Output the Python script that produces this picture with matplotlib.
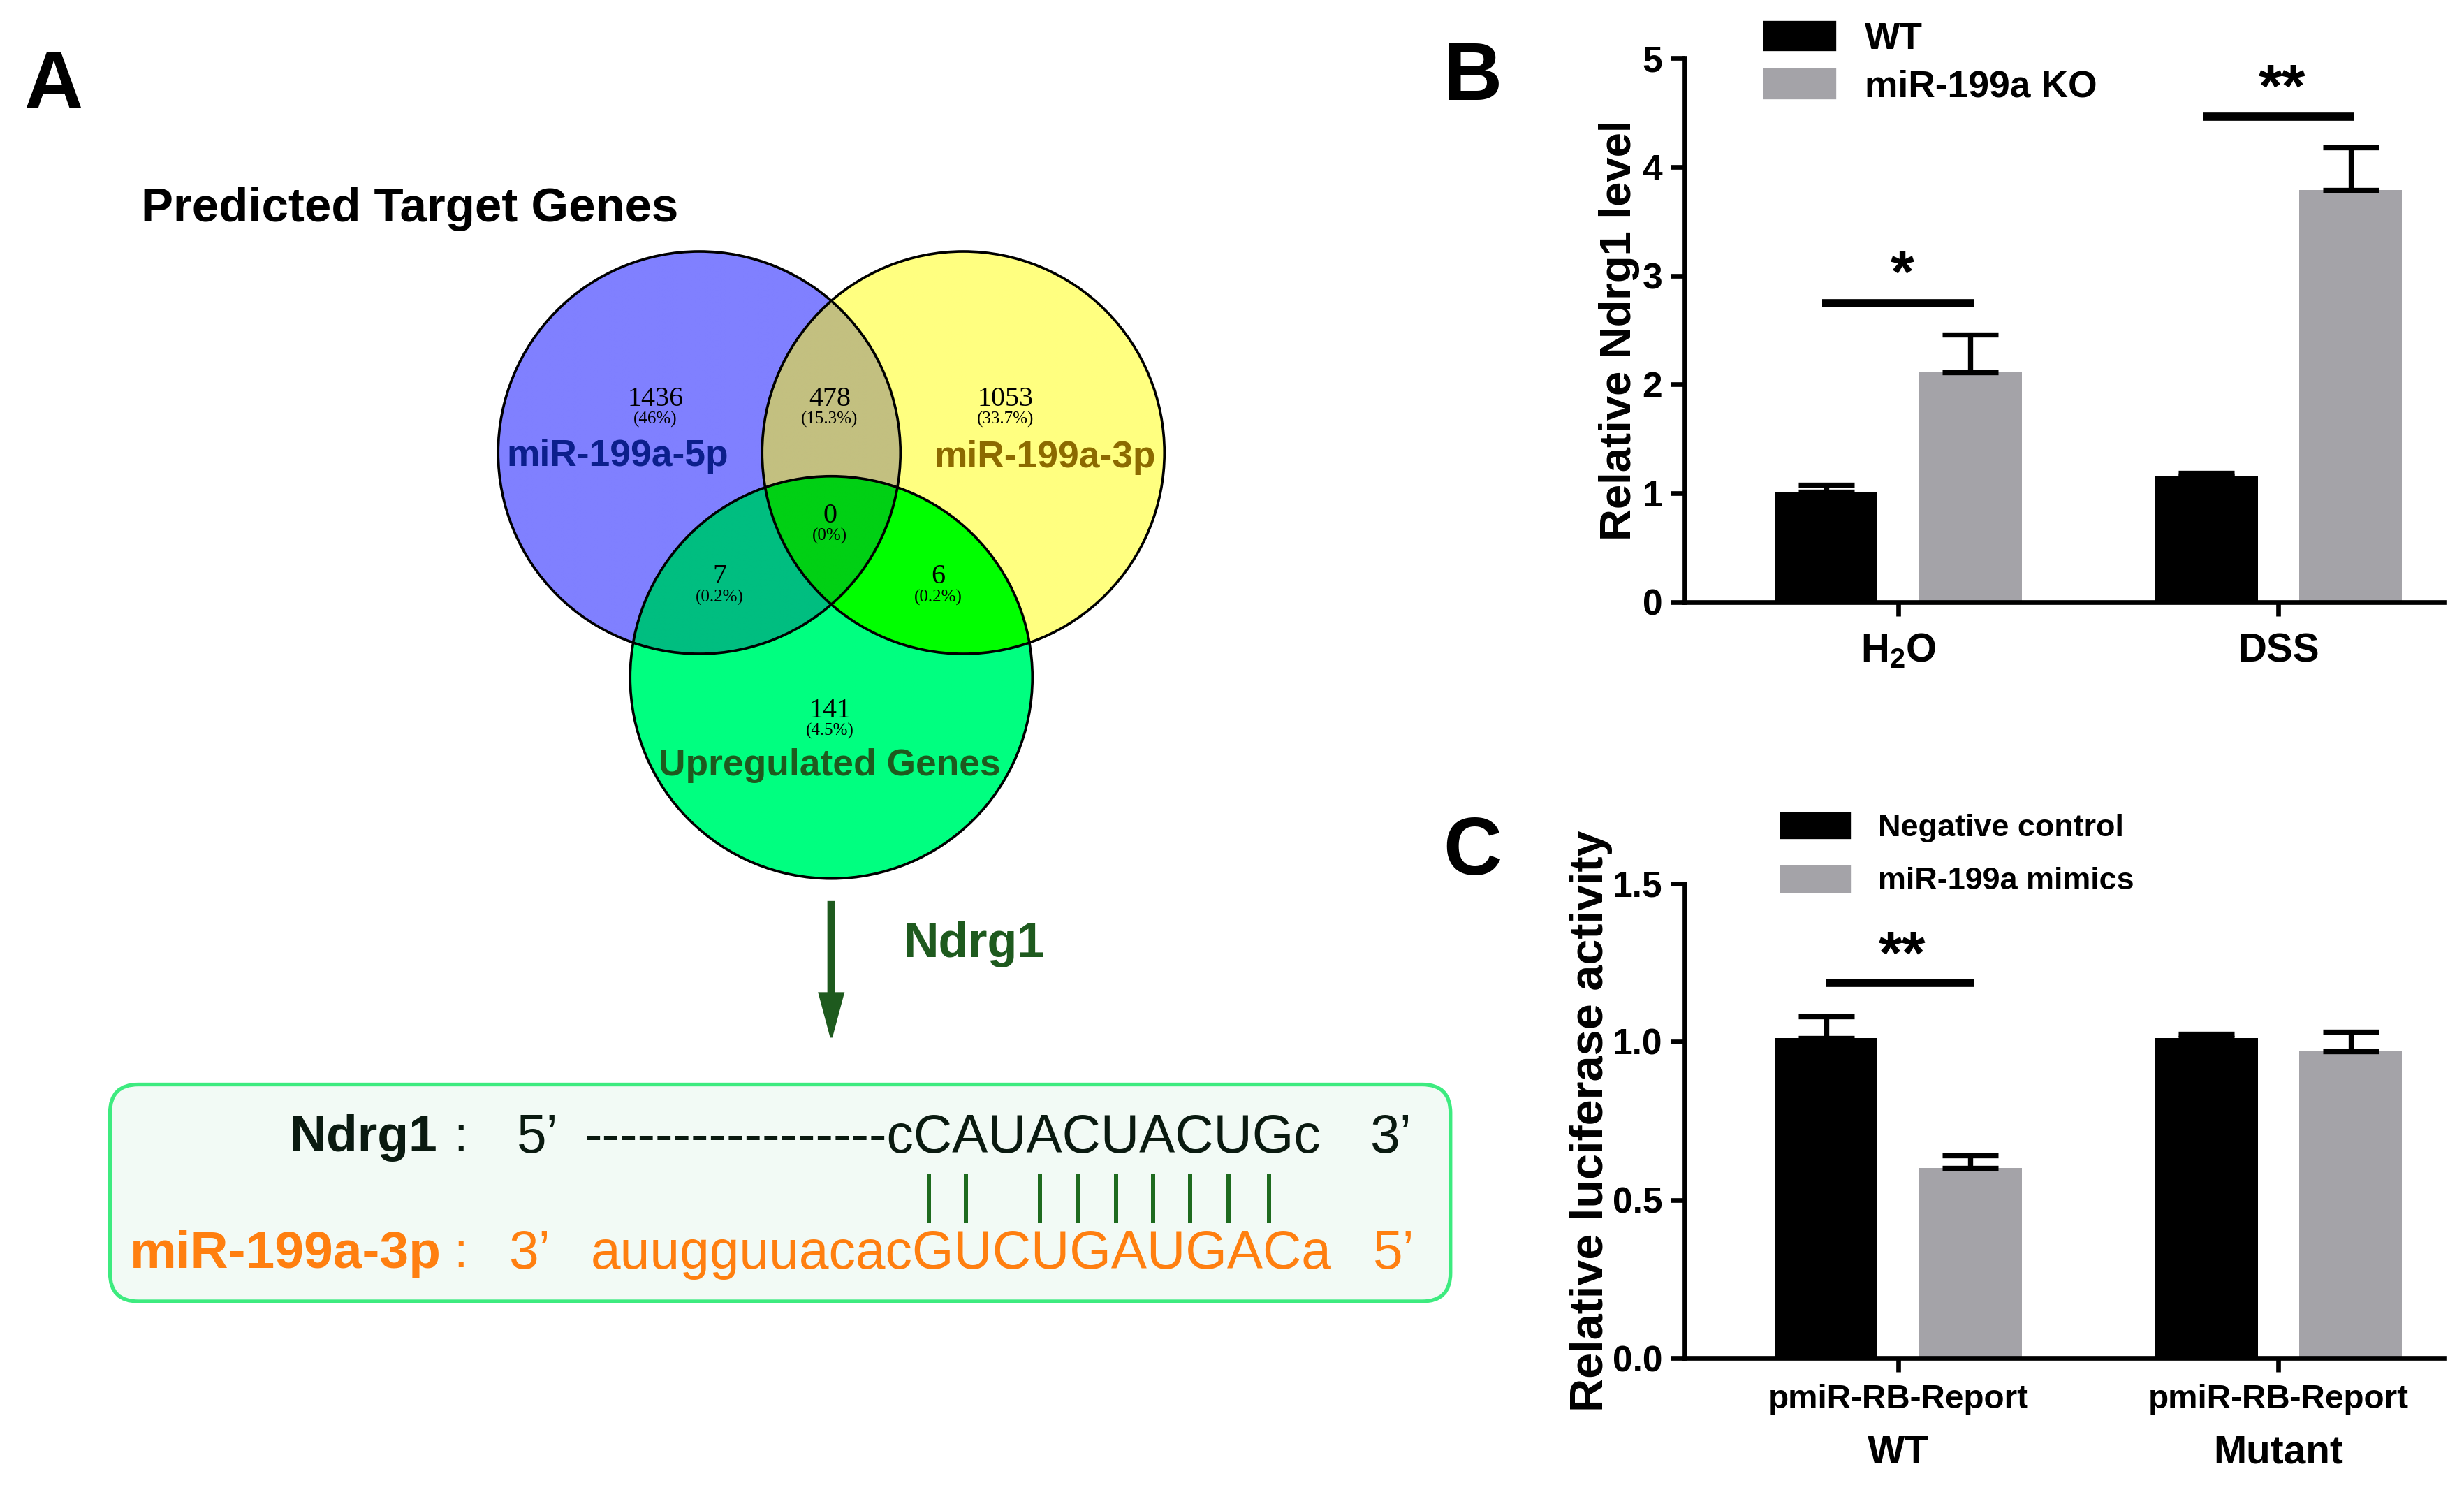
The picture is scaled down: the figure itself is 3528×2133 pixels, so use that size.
import matplotlib.pyplot as plt
import numpy as np
from matplotlib.patches import Circle, FancyBboxPatch, Patch

plt.rcParams['font.family'] = ['Liberation Sans', 'DejaVu Sans']
plt.rcParams['mathtext.default'] = 'regular'

# panel A: Venn diagram of predicted targets
venn_names = ['miR-199a-5p', 'miR-199a-3p', 'Upregulated Genes']
venn_name_colors = ['#0C1F8C', '#8C6A00', '#1E5A1E']
venn_counts = [1436, 478, 1053, 0, 7, 6, 141]
venn_pcts = ['46%', '15.3%', '33.7%', '0%', '0.2%', '0.2%', '4.5%']

# panel A: seed pairing
target_name = 'Ndrg1'
mirna_name = 'miR-199a-3p'
target_seq = '-----------------cCAUACUACUGc'
mirna_seq = 'auugguuacacGUCUGAUGACa'
paired = [18, 19, 21, 22, 23, 24, 25, 26, 27]   # indices in target_seq with a bar

# panel B
b_groups = ['H$_2$O', 'DSS']
b_series = ['WT', 'miR-199a KO']
b_wt = [1.01, 1.16]
b_wt_err = [0.07, 0.025]
b_ko = [2.11, 3.79]
b_ko_err = [0.35, 0.39]
b_sig = ['*', '**']
b_sig_y = [2.75, 4.46]

# panel C
c_groups = ['pmiR-RB-Report', 'pmiR-RB-Report']
c_sub = ['WT', 'Mutant']
c_series = ['Negative control', 'miR-199a mimics']
c_nc = [1.01, 1.01]
c_nc_err = [0.07, 0.015]
c_mim = [0.60, 0.97]
c_mim_err = [0.04, 0.06]
c_sig = ['**', '']
c_sig_y = [1.185, None]

GREY = '#A4A3A8'
DKGREEN = '#1E5A1E'

fig = plt.figure(figsize=(14.7, 8.8875), dpi=240)
ax0 = fig.add_axes([0, 0, 1, 1])
ax0.set_zorder(0)

# ---- Venn fills by region membership
centers = [(445, 288), (613, 288), (529, 431)]
rad = 128
region_colors = {1: '#8080FF', 2: '#FFFF80', 3: '#C3C080', 4: '#00FF80',
                 5: '#00BE80', 6: '#00FF00', 7: '#00D014'}
xs = np.linspace(300, 760, 1500)
ys = np.linspace(140, 580, 1430)
X, Y = np.meshgrid(xs, ys)
code = np.zeros(X.shape, dtype=int)
for k, (cx, cy) in enumerate(centers):
    code += ((X - cx) ** 2 + (Y - cy) ** 2 <= rad ** 2).astype(int) << k
lut = np.zeros((8, 4))
for k, c in region_colors.items():
    lut[k] = plt.matplotlib.colors.to_rgba(c)
ax0.imshow(lut[code], extent=(300, 760, 580, 140), interpolation='bilinear',
           aspect='auto', zorder=1)
for cx, cy in centers:
    ax0.add_patch(Circle((cx, cy), rad, fill=False, ec='black', lw=1.1, zorder=2))

num_pos = [(417, 254), (528, 254), (640, 254), (528, 328), (458, 367), (597, 367), (528, 452)]
for (x, y), n, p in zip(num_pos, venn_counts, venn_pcts):
    ax0.text(x, y, str(n), ha='center', va='center', fontsize=12,
             family='Liberation Serif', zorder=3)
    ax0.text(x, y + 13, '(' + p + ')', ha='center', va='center', fontsize=7.5,
             family='Liberation Serif', zorder=3)

name_pos = [(393, 290), (665, 291), (528, 487)]
for (x, y), name, col in zip(name_pos, venn_names, venn_name_colors):
    ax0.text(x, y, name, ha='center', va='center', fontsize=16,
             fontweight='bold', color=col, zorder=3)

ax0.text(90, 133, 'Predicted Target Genes', ha='left', va='center',
         fontsize=20.7, fontweight='bold')

# arrow to the selected gene
ax0.arrow(529, 574, 0, 86, width=3.5, head_width=15, head_length=28,
          length_includes_head=True, color=DKGREEN, zorder=3)
ax0.text(575, 601, target_name, ha='left', va='center', fontsize=21,
         fontweight='bold', color=DKGREEN)

# pairing box
ax0.add_patch(FancyBboxPatch((70, 690), 853, 138,
                             boxstyle='round,pad=0,rounding_size=18',
                             ec='#3DEB7F', fc='#F2FAF5', lw=1.6, zorder=1))
ORANGE = '#FF7F10'
ax0.text(278, 724, target_name, ha='right', va='center', fontsize=22,
         fontweight='bold', color='#0A1A10', zorder=3)
ax0.text(293, 724, ':', ha='center', va='center', fontsize=22, color='#0A1A10', zorder=3)
ax0.text(342, 724, '5\u2019', ha='center', va='center', fontsize=23, color='#0A1A10', zorder=3)
tgt = ax0.text(372, 724, target_seq, ha='left', va='center', fontsize=23,
               color='#0A1A10', zorder=3)
ax0.text(885, 724, '3\u2019', ha='center', va='center', fontsize=23, color='#0A1A10', zorder=3)

ax0.text(281, 798, mirna_name, ha='right', va='center', fontsize=22.5,
         fontweight='bold', color=ORANGE, zorder=3)
ax0.text(293, 798, ':', ha='center', va='center', fontsize=22, color=ORANGE, zorder=3)
ax0.text(337, 798, '3\u2019', ha='center', va='center', fontsize=23, color=ORANGE, zorder=3)
ax0.text(376, 798, mirna_seq, ha='left', va='center', fontsize=23,
         color=ORANGE, zorder=3)
ax0.text(887, 798, '5\u2019', ha='center', va='center', fontsize=23, color=ORANGE, zorder=3)

# panel letters
ax0.text(34, 55, 'A', ha='center', va='center', fontsize=35, fontweight='bold')
ax0.text(937, 50, 'B', ha='center', va='center', fontsize=35, fontweight='bold')
ax0.text(937, 543, 'C', ha='center', va='center', fontsize=35, fontweight='bold')

ax0.set_xlim(0, 1568)
ax0.set_ylim(948, 0)
ax0.axis('off')

# pairing bars placed under the paired letters of the target sequence
fig.canvas.draw()
rend = fig.canvas.get_renderer()
inv = ax0.transData.inverted()
x_start = ax0.transData.transform((372, 724))[0]


def prefix_width(s):
    t = ax0.text(0, 0, s, fontsize=23, ha='left')
    w = t.get_window_extent(rend).width
    t.remove()
    return w


for i in paired:
    left = prefix_width(target_seq[:i])
    right = prefix_width(target_seq[:i + 1])
    xd = inv.transform((x_start + (left + right) / 2, 0))[0]
    ax0.plot([xd - 3, xd - 3], [748, 777], color='#1E6B1E', lw=1.8, zorder=3)


def style_axes(ax, ymax, yticks, yfmt):
    for s in ['top', 'right']:
        ax.spines[s].set_visible(False)
    for s in ['left', 'bottom']:
        ax.spines[s].set_linewidth(2)
    ax.set_ylim(0, ymax)
    ax.set_yticks(yticks)
    ax.set_yticklabels([yfmt.format(v) for v in yticks], fontsize=15.5, fontweight='bold')
    ax.tick_params(width=2, length=6)
    ax.set_xlim(-0.562, 1.434)
    ax.patch.set_alpha(0)


def grouped(ax, a, a_err, b, b_err):
    x = np.arange(len(a))
    off, w = 0.19, 0.27
    bars_a = ax.bar(x - off, a, w, color='black', zorder=2)
    bars_b = ax.bar(x + off, b, w, color=GREY, zorder=2)
    ax.errorbar(x - off, a, yerr=[np.zeros(len(a)), a_err], fmt='none',
                ecolor='black', elinewidth=2.2, capsize=12, capthick=2.2, zorder=3)
    ax.errorbar(x + off, b, yerr=[np.zeros(len(b)), b_err], fmt='none',
                ecolor='black', elinewidth=2.2, capsize=12, capthick=2.2, zorder=3)
    return x, bars_a, bars_b


# ---- panel B
ax_b = fig.add_axes([1072 / 1568, 1 - 383 / 948, 483 / 1568, 346 / 948])
style_axes(ax_b, 5, [0, 1, 2, 3, 4, 5], '{:g}')
xb, ba, bb = grouped(ax_b, b_wt, b_wt_err, b_ko, b_ko_err)
ax_b.set_xticks(xb)
ax_b.set_xticklabels(b_groups, fontsize=17, fontweight='bold')
ax_b.tick_params(axis='x', pad=7)
ax_b.set_ylabel('Relative Ndrg1 level', fontsize=19, fontweight='bold', labelpad=1)
for x, s, y in zip(xb, b_sig, b_sig_y):
    ax_b.plot([x - 0.2, x + 0.2], [y, y], color='black', lw=3.5, solid_capstyle='butt')
    ax_b.text(x + 0.01, y - 0.02, s, ha='center', va='bottom', fontsize=26, fontweight='bold')
ax_b.legend([Patch(color='black'), Patch(color=GREY)], b_series,
            loc='upper left', bbox_to_anchor=(0.085, 1.095), frameon=False,
            prop={'size': 16, 'weight': 'bold'}, handlelength=1.9, handleheight=0.8,
            labelspacing=0.35, handletextpad=0.8, borderaxespad=0)

# ---- panel C
ax_c = fig.add_axes([1072 / 1568, 1 - 864 / 948, 483 / 1568, 302 / 948])
style_axes(ax_c, 1.5, [0.0, 0.5, 1.0, 1.5], '{:.1f}')
xc, ca, cb = grouped(ax_c, c_nc, c_nc_err, c_mim, c_mim_err)
ax_c.set_xticks(xc)
ax_c.set_xticklabels(c_groups, fontsize=14.3, fontweight='bold')
ax_c.tick_params(axis='x', pad=5)
for x, s in zip(xc, c_sub):
    ax_c.text(x, -0.20, s, transform=ax_c.get_xaxis_transform(), ha='center',
              va='center', fontsize=17, fontweight='bold')
ax_c.set_ylabel('Relative luciferase activity', fontsize=20, fontweight='bold', labelpad=0)
for x, s, y in zip(xc, c_sig, c_sig_y):
    if y is None:
        continue
    ax_c.plot([x - 0.19, x + 0.2], [y, y], color='black', lw=3.5, solid_capstyle='butt')
    ax_c.text(x + 0.01, y - 0.01, s, ha='center', va='bottom', fontsize=26, fontweight='bold')
ax_c.legend([Patch(color='black'), Patch(color=GREY)], c_series,
            loc='upper left', bbox_to_anchor=(0.11, 1.175), frameon=False,
            prop={'size': 13.5, 'weight': 'bold'}, handlelength=2.2, handleheight=0.85,
            labelspacing=0.75, handletextpad=0.9, borderaxespad=0)

fig.savefig('out.png', dpi=240)
